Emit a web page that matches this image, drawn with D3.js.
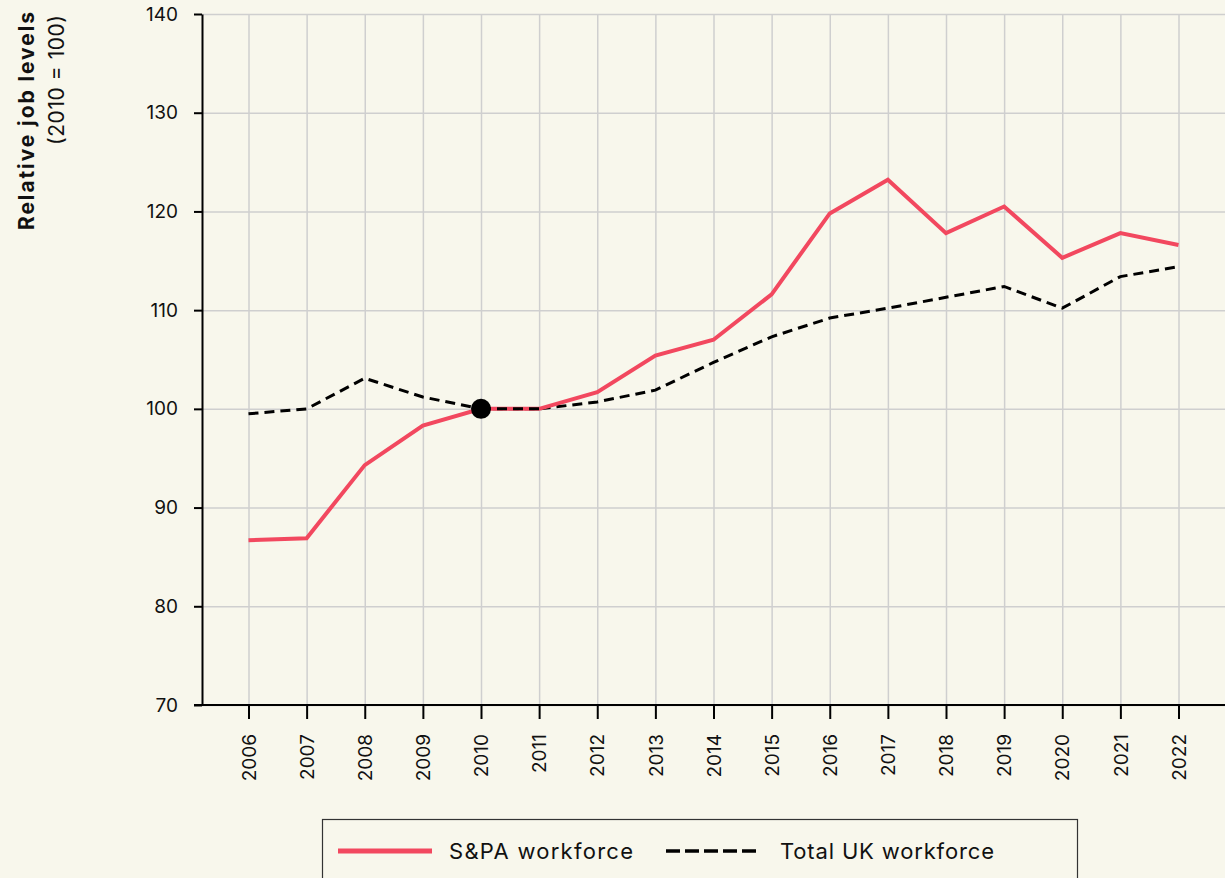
<!DOCTYPE html>
<html lang="en">
<head>
    <meta charset="UTF-8">
    <script src="https://d3js.org/d3.v7.min.js"></script>
    <title>Relative job levels</title>
    <style>
        body {
            margin: 0;
            background-color: #f8f7ec;
            font-family: 'Inter', sans-serif;
        }
        svg { display: block; }
        .grid line { stroke: #cfcfcf; stroke-width: 1.5px; }
        .grid path { stroke: none; }
        .axis path, .axis line { stroke: #000; stroke-width: 2px; }
        .axis text { fill: #111; font-size: 19px; font-family: 'Inter', sans-serif; }
        .legend text { font-size: 22px; fill: #111; }
    </style>
</head>
<body>
    <svg width="1225" height="878"></svg>
    <script>
        // Data
        const years = ["2006", "2007", "2008", "2009", "2010", "2011", "2012", "2013", "2014",
            "2015", "2016", "2017", "2018", "2019", "2020", "2021", "2022"];
        const spaValues = [86.7, 86.9, 94.3, 98.3, 100, 100, 101.7, 105.4, 107.0,
            111.6, 119.8, 123.2, 117.8, 120.5, 115.3, 117.8, 116.6];
        const ukValues = [99.5, 100.0, 103.1, 101.2, 100, 100, 100.7, 101.9, 104.7,
            107.3, 109.2, 110.2, 111.3, 112.4, 110.2, 113.4, 114.4];
        const yTicks = [70, 80, 90, 100, 110, 120, 130, 140];

        const width = 1225;
        const height = 878;
        const margin = { top: 14, right: 0, bottom: 173, left: 202 };

        const svg = d3.select("svg");

        const x = d3.scalePoint()
            .domain(years)
            .range([margin.left, width - margin.right])
            .padding(0.8);

        const y = d3.scaleLinear()
            .domain([70, 140])
            .range([height - margin.bottom, margin.top]);

        // Gridlines
        svg.append("g")
            .attr("class", "grid")
            .attr("transform", `translate(${margin.left},0)`)
            .call(d3.axisLeft(y).tickValues(yTicks).tickSize(-(width - margin.left - margin.right)).tickFormat(''));

        svg.append("g")
            .attr("class", "grid")
            .attr("transform", `translate(0,${height - margin.bottom})`)
            .call(d3.axisBottom(x).tickSize(-(height - margin.bottom - margin.top)).tickFormat(''));

        // Lines
        const line = d3.line()
            .x((d, i) => x(years[i]))
            .y(d => y(d));

        svg.append("path")
            .datum(ukValues)
            .attr("fill", "none")
            .attr("stroke", "#000")
            .attr("stroke-width", 3)
            .attr("stroke-dasharray", "10,6")
            .attr("d", line);

        svg.append("path")
            .datum(spaValues)
            .attr("fill", "none")
            .attr("stroke", "#f2485f")
            .attr("stroke-width", 4)
            .attr("d", line);

        // Dashed line stays on top across the flat 2010-2011 segment
        svg.append("path")
            .datum(ukValues.slice(4, 6))
            .attr("fill", "none")
            .attr("stroke", "#000")
            .attr("stroke-width", 3)
            .attr("stroke-dasharray", "10,6")
            .attr("d", d3.line().x((d, i) => x(years[i + 4])).y(d => y(d)));

        // Base year marker
        svg.append("circle")
            .attr("cx", x("2010"))
            .attr("cy", y(100))
            .attr("r", 10)
            .attr("fill", "#000");

        // Axes
        svg.append("g")
            .attr("class", "axis")
            .attr("transform", `translate(0,${height - margin.bottom})`)
            .call(d3.axisBottom(x).tickSize(14).tickSizeOuter(0))
            .call(g => g.select(".domain").attr("d", `M${margin.left - 8},0H${width}`))
            .selectAll("text")
            .attr("transform", "rotate(-90)")
            .attr("text-anchor", "end")
            .attr("x", -29)
            .attr("y", 0)
            .attr("dy", "0.35em");

        svg.append("g")
            .attr("class", "axis")
            .attr("transform", `translate(${margin.left},0)`)
            .call(d3.axisLeft(y).tickValues(yTicks).tickSize(8).tickSizeOuter(0).tickPadding(16));

        // Y axis title
        svg.append("text")
            .attr("transform", `translate(34,12) rotate(-90)`)
            .attr("text-anchor", "end")
            .attr("font-size", 21)
            .attr("font-weight", 700)
            .attr("fill", "#111")
            .attr("textLength", 218)
            .text("Relative job levels");

        svg.append("text")
            .attr("transform", `translate(64,15) rotate(-90)`)
            .attr("text-anchor", "end")
            .attr("font-size", 21)
            .attr("fill", "#111")
            .attr("textLength", 130)
            .text("(2010 = 100)");

        // Legend
        const legend = svg.append("g").attr("class", "legend");
        legend.append("rect")
            .attr("x", 322.5)
            .attr("y", 819.5)
            .attr("width", 755)
            .attr("height", 80)
            .attr("fill", "none")
            .attr("stroke", "#333")
            .attr("stroke-width", 1.2);

        legend.append("line")
            .attr("x1", 338).attr("x2", 432)
            .attr("y1", 851).attr("y2", 851)
            .attr("stroke", "#f2485f").attr("stroke-width", 5);
        legend.append("text")
            .attr("x", 449).attr("y", 851).attr("dy", "0.35em")
            .attr("textLength", 184)
            .text("S&PA workforce");

        legend.append("line")
            .attr("x1", 666).attr("x2", 760)
            .attr("y1", 851).attr("y2", 851)
            .attr("stroke", "#000").attr("stroke-width", 3.5)
            .attr("stroke-dasharray", "14,5");
        legend.append("text")
            .attr("x", 780).attr("y", 851).attr("dy", "0.35em")
            .attr("textLength", 214)
            .text("Total UK workforce");
    </script>
</body>
</html>
